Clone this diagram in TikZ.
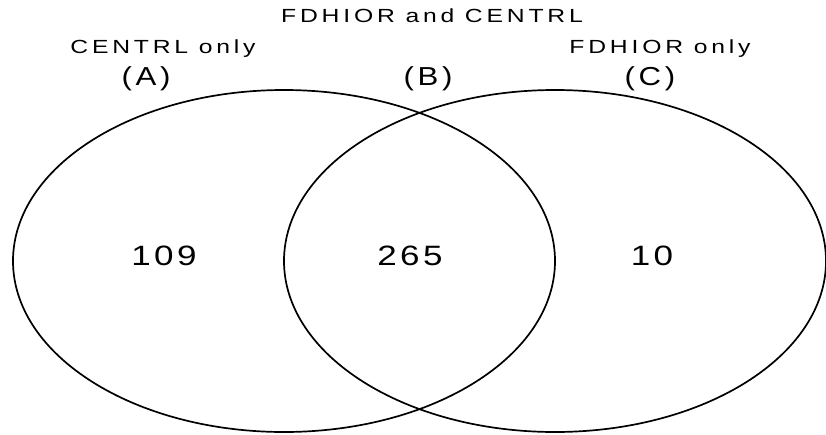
\documentclass[tikz,border=0pt]{standalone}
\usepackage{fontspec}
\usetikzlibrary{shapes.geometric}
\newfontfamily\plotfont[FakeStretch=1.3, LetterSpace=20]{Liberation Sans}
\newfontfamily\plotbigfont[FakeStretch=1.2, LetterSpace=14]{Liberation Sans}
\newfontfamily\plotnumfont[FakeStretch=1.25, LetterSpace=12]{Liberation Sans}

\tikzset{
	set/.style={draw, ellipse, line width=1.7pt, inner sep=0pt,
		minimum width=542pt, minimum height=342pt},
	caption/.style={font=\plotfont\fontsize{19}{19}\selectfont, inner sep=0pt},
	region/.style={font=\plotbigfont\fontsize{26}{26}\selectfont, inner sep=0pt},
	count/.style={font=\plotnumfont\fontsize{28}{28}\selectfont, inner sep=0pt}
}

\begin{document}
\begin{tikzpicture}[x=1pt, y=-1pt]

	\useasboundingbox (0,0) rectangle (826,434);

	\node[set] (centrl) at (284,261) {};
	\node[set] (fdhior) at (555,261) {};

	\node[caption] (both) at (432,16) {FDHIOR and CENTRL};
	\node[caption] (aonly) at (163,49) {CENTRL only};
	\node[caption] (conly) at (660,49) {FDHIOR only};

	\node[region] (a) at (146,79) {(A)};
	\node[region] (b) at (428,79) {(B)};
	\node[region] (c) at (650,79) {(C)};

	\node[count] (na) at (164,256) {109};
	\node[count] (nb) at (410,256) {265};
	\node[count] (nc) at (652,256) {10};

\end{tikzpicture}
\end{document}
